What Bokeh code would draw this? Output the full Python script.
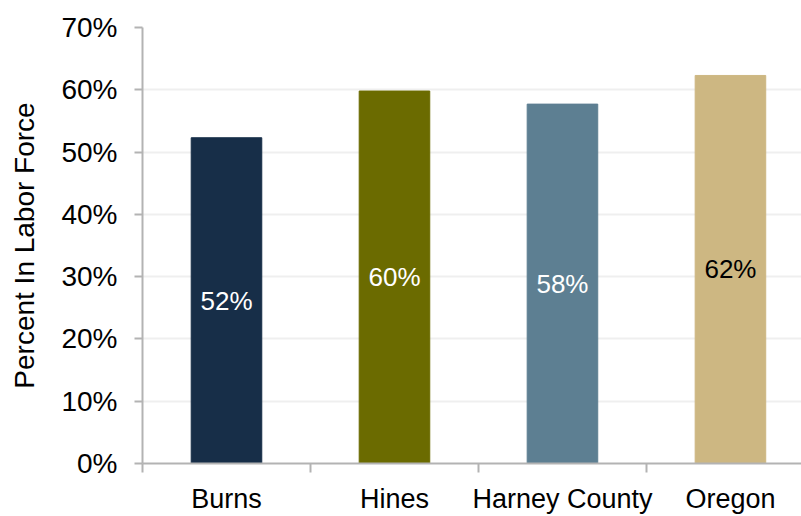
from bokeh.plotting import figure
from bokeh.models import Range1d, FixedTicker, PrintfTickFormatter, ColumnDataSource
from bokeh.embed import file_html
from bokeh.resources import INLINE
from bokeh.core.properties import value

categories = ["Burns", "Hines", "Harney County", "Oregon"]
percent_in_labor_force = [52.3, 59.8, 57.7, 62.3]
bar_colors = ["#172e48", "#6b6b00", "#5d7f92", "#cdb782"]
label_colors = ["white", "white", "white", "black"]
y_ticks = [0, 10, 20, 30, 40, 50, 60, 70]

FONT = "Liberation Sans"

xs = [i + 0.5 for i in range(len(categories))]
src = ColumnDataSource(dict(
    x=xs,
    top=percent_in_labor_force,
    mid=[v / 2 for v in percent_in_labor_force],
    color=bar_colors,
    tcolor=label_colors,
    label=[f"{round(v)}%" for v in percent_in_labor_force],
))

p = figure(width=801, height=516, output_backend="svg", toolbar_location=None,
           x_range=Range1d(0, 3.923), y_range=Range1d(0, 70),
           min_border_left=142, min_border_right=0, min_border_top=27,
           min_border_bottom=51)
p.outline_line_color = None
p.background_fill_color = "white"
p.border_fill_color = "white"

p.vbar(x="x", top="top", width=0.42, color="color", source=src)
p.text(x="x", y="mid", text="label", text_color="tcolor", source=src,
       text_align="center", text_baseline="middle",
       text_font=value(FONT), text_font_size="26px")

# x axis
xa = p.xaxis[0]
xa.ticker = FixedTicker(ticks=xs, minor_ticks=[0, 1, 2, 3, 4])
xa.major_label_overrides = {x: c for x, c in zip(xs, categories)}
xa.major_tick_line_color = None
xa.major_tick_out = 9
xa.major_tick_in = 0
xa.minor_tick_out = 9
xa.minor_tick_in = 0
xa.minor_tick_line_color = "#b3b3b3"
xa.minor_tick_line_width = 2
xa.axis_line_color = "#b3b3b3"
xa.axis_line_width = 2
xa.major_label_text_font = FONT
xa.major_label_text_font_size = "27px"
xa.major_label_text_color = "black"
xa.major_label_standoff = 11

# y axis
ya = p.yaxis[0]
ya.ticker = FixedTicker(ticks=y_ticks, minor_ticks=[])
ya.formatter = PrintfTickFormatter(format="%d%%")
ya.major_tick_out = 8
ya.major_tick_in = 0
ya.major_tick_line_color = "#b3b3b3"
ya.major_tick_line_width = 2
ya.axis_line_color = "#b3b3b3"
ya.axis_line_width = 2
ya.major_label_text_font = FONT
ya.major_label_text_font_size = "28px"
ya.major_label_text_color = "black"
ya.major_label_standoff = 17
ya.axis_label = "Percent In Labor Force"
ya.axis_label_text_font = FONT
ya.axis_label_text_font_size = "28px"
ya.axis_label_text_font_style = "normal"
ya.axis_label_text_color = "black"
ya.axis_label_standoff = 18

p.xgrid.grid_line_color = None
p.ygrid.ticker = FixedTicker(ticks=y_ticks)
p.ygrid.grid_line_color = "#efefef"
p.ygrid.grid_line_width = 2

open("out.html", "w").write(file_html(p, INLINE))
